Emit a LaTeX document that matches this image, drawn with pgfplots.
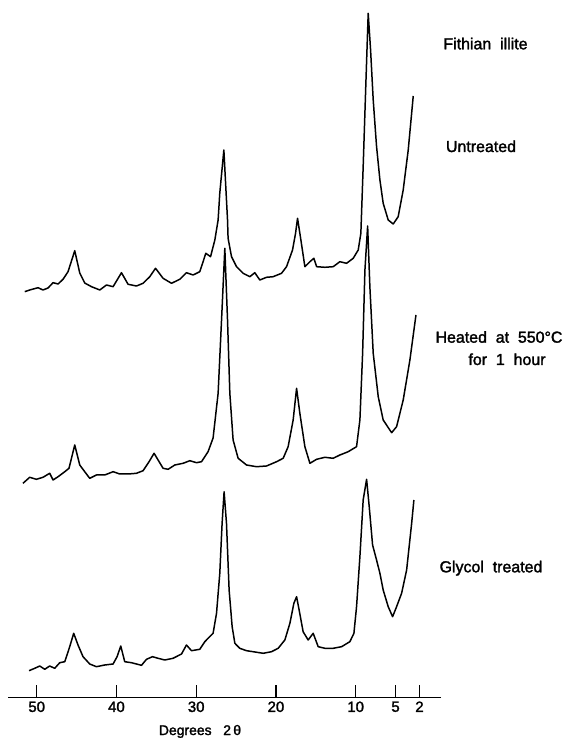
\documentclass[border=0pt]{standalone}
\usepackage{fontspec}
\setmainfont{Liberation Sans}[FakeBold=1.8]
\usepackage{pgfplots}
\pgfplotsset{compat=1.18}

% traced diffractometer curves, x = degrees 2 theta, y = pen height (bp above the base line)
\begin{document}
\begin{tikzpicture}
\path[use as bounding box] (-8bp,-41bp) rectangle (570bp,697bp);
\begin{axis}[
    at={(0,0)}, anchor=south west,
    scale only axis,
    width=433bp, height=697bp,
    x dir=reverse,
    xmin=-0.7, xmax=53.6,
    ymin=0, ymax=697,
    axis x line*=bottom,
    axis y line=none,
    xtick={50,40,30,20,10,5,2},
    xtick align=inside,
    major tick length=12bp,
    major tick style={line width=1.3pt, black},
    axis line style={line width=1pt, black},
    /pgf/number format/assume math mode=true,
    ticklabel style={font=\fontsize{15}{15}\selectfont, yshift=-1bp},
    clip=false,
    trace/.style={black, line width=1.5pt, line join=round, no markers},
]
% Untreated
\addplot[trace] coordinates {
(51.50,405.3) (50.88,407) (49.83,409.3) (49.21,407) (48.58,409) (47.95,414.3) (47.32,413)
(46.70,417.7) (46.07,425.3) (45.23,446.3) (44.60,424) (43.98,414) (43.13,410.3) (42.09,407)
(41.25,412) (40.42,410.3) (39.37,424.3) (38.54,412.7) (37.49,411) (36.66,413.7) (35.82,420.3)
(35.10,428.7) (34.15,418.7) (33.10,413.7) (32.06,417.7) (31.22,424.3) (30.39,422) (29.55,425.3)
(28.79,443.7) (28.20,440.3) (27.66,457) (27.25,477) (27.04,504) (26.53,547) (26.07,477)
(26.00,458.7) (25.57,440.3) (24.94,430.3) (24.11,423.7) (23.27,420.3) (22.65,424.3) (22.02,417)
(21.18,419.7) (20.35,420.3) (19.30,423.7) (18.67,430.3) (17.92,447) (17.54,463.7) (17.29,478.7)
(16.87,457) (16.37,430.3) (15.74,435.3) (15.24,438.7) (14.90,430.3) (13.86,429.7) (12.82,430.3)
(11.98,435.3) (11.14,433.7) (10.31,438.7) (9.68,447) (9.35,463.7) (9.06,530.3) (8.72,614)
(8.43,683.7) (8.13,647) (7.80,597) (7.38,550.3) (6.96,517) (6.55,493.7) (5.92,477) (5.29,473)
(4.67,480.3) (4.04,507) (3.41,547) (2.78,601)
};
% Heated at 550 C for 1 hour
\addplot[trace] coordinates {
(51.72,213.7) (50.88,219.7) (50.04,217.7) (49.21,219.7) (48.37,223.7) (47.95,217) (47.32,220.3)
(46.48,225.3) (45.95,228.7) (45.23,252) (44.60,232) (43.98,225.3) (43.35,218.7) (42.51,222)
(41.47,222) (40.42,225.3) (39.58,223) (38.54,223) (37.49,223.7) (36.66,226.3) (35.91,235.3)
(35.28,243.7) (34.78,237) (34.15,228.7) (33.52,227.7) (32.68,232) (31.64,233.7) (30.80,236.3)
(29.96,234.3) (29.33,235.3) (28.51,245.3) (27.88,259) (27.25,303.7) (26.82,377) (26.41,448.7)
(26.07,377) (25.78,303.7) (25.37,257) (24.74,238.7) (23.69,232) (22.43,230.3) (21.18,231)
(19.92,235.3) (19.09,238.7) (18.47,250.3) (17.84,277) (17.41,308.7) (17.00,283.7) (16.37,250.3)
(15.74,233.7) (14.90,237.7) (13.86,239.7) (12.82,238.7) (11.98,242) (10.94,245.3) (9.89,250.3)
(9.47,277) (9.13,343.7) (8.84,427) (8.50,471) (8.22,410.3) (7.80,343.7) (7.17,300.3) (6.55,277)
(5.49,264.3) (4.87,270.3) (4.04,297) (3.20,337) (2.44,382)
};
% Glycol treated
\addplot[trace] coordinates {
(50.96,26.3) (50.25,28.7) (49.62,31) (48.99,27.7) (48.37,31) (47.74,28.7) (47.11,34.3)
(46.48,35.3) (45.86,50.3) (45.36,63.7) (44.82,52) (44.19,40.3) (43.35,33) (42.51,30.3)
(41.47,32) (40.42,33) (39.92,40.3) (39.46,51) (38.96,35.3) (38.12,34.3) (37.49,33) (36.86,31.7)
(36.23,37.7) (35.48,40.3) (34.78,38.7) (33.94,37) (32.90,38.7) (31.84,43) (31.22,52)
(30.59,46.3) (29.55,47.7) (28.92,55.3) (28.51,58.7) (27.88,63.7) (27.45,83.7) (27.04,123.7)
(26.75,173.7) (26.50,205.3) (26.20,173.7) (25.87,107) (25.49,70.3) (25.15,53.7) (24.53,48.7)
(23.69,46.3) (22.86,45.3) (21.60,43.7) (20.55,45.3) (19.72,48.7) (18.88,57) (18.25,73.7)
(17.75,93.7) (17.41,100.3) (17.09,87) (16.59,65.3) (15.96,57) (15.33,63.7) (14.70,50.3)
(13.86,48.7) (12.82,48.7) (11.77,50.3) (10.73,55.3) (10.22,63.7) (9.89,90.3) (9.47,140.3)
(9.06,197) (8.63,217.7) (8.30,190.3) (7.88,152) (7.38,137) (6.96,123.7) (6.55,107) (5.92,90.3)
(5.37,80.3) (4.87,90.3) (4.24,103.7) (3.61,127) (2.98,173.7) (2.70,197)
};
\end{axis}
\begin{scope}[every node/.style={anchor=base, inner sep=0pt, font=\fontsize{16}{16}\selectfont}]
\node at (477.5bp,647.7bp) {Fithian\ \ illite};
\node at (473bp,545bp) {Untreated};
\node at (491bp,354.3bp) {Heated\ \ at\ \ 550°C};
\node at (499bp,332bp) {for\ \ 1\ \ hour};
\node at (483bp,124.7bp) {Glycol\ \ treated};
\node[font=\fontsize{14}{14}\selectfont] at (192bp,-38bp) {Degrees\ \ \ 2\,θ};
\end{scope}
\end{tikzpicture}
\end{document}
